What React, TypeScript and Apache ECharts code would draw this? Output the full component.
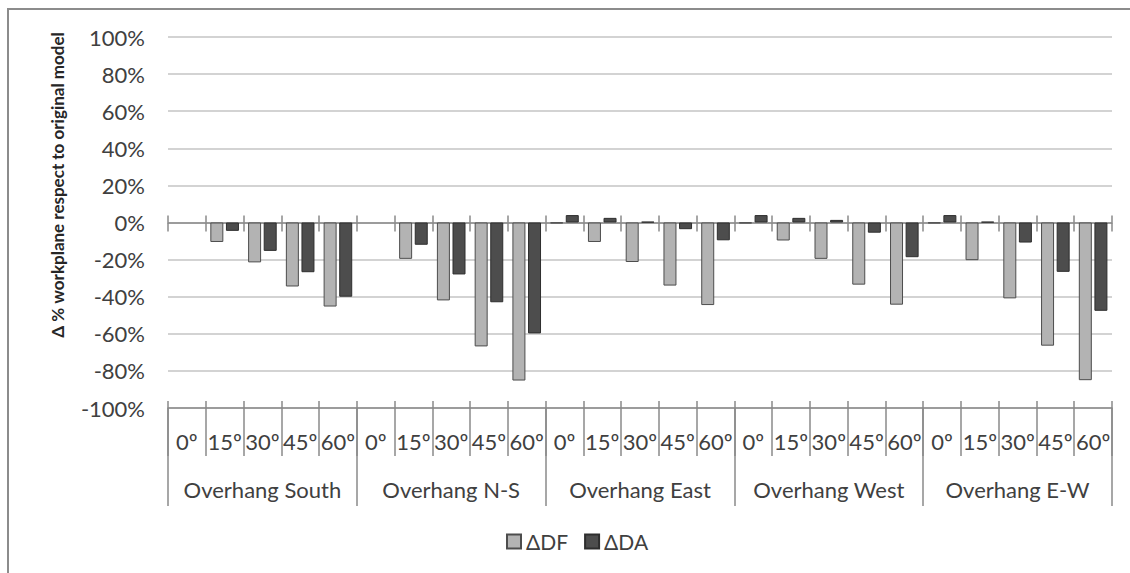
import React, { useEffect, useRef } from "react";
import * as echarts from "echarts";

const angles = ["0º", "15º", "30º", "45º", "60º"];
const groups = ["Overhang South", "Overhang N-S", "Overhang East", "Overhang West", "Overhang E-W"];
const categories: string[] = groups.flatMap(() => angles);

const seriesNames = ["ΔDF", "ΔDA"];
// values in %
const dfValues = [
  0, -10.5, -21.5, -34.5, -45.3,
  0, -19.6, -42, -66.8, -85.2,
  -0.4, -10.5, -21.3, -34, -44.5,
  -0.4, -9.7, -19.6, -33.5, -44.3,
  -0.4, -20.3, -40.9, -66.4, -85,
];
const daValues = [
  0, -4.5, -15.3, -26.8, -40,
  0, -12, -28, -43, -59.8,
  4, 2.5, 0.4, -3.6, -9.6,
  4, 2.5, 1.4, -5.5, -18.7,
  4, 0.4, -10.8, -26.6, -47.6,
];
const yTicks = { min: -100, max: 100, interval: 20 };

const FONT = "Lato";
const TEXT = "#404040";

// zero-valued bars are not drawn at all (no outline)
const toBarData = (vals: number[]) =>
  vals.map((v) => (v === 0 ? { value: v, itemStyle: { borderWidth: 0 } } : v));

export default function App() {
  const ref = useRef<HTMLDivElement>(null);
  useEffect(() => {
    if (!ref.current) return;
    const chart = echarts.init(ref.current, null, { renderer: "svg" });
    const baseCat = {
      type: "category" as const,
      data: categories,
      gridIndex: 0,
      position: "bottom" as const,
      boundaryGap: true,
      axisLabel: { show: false },
      splitLine: { show: false },
    };
    chart.setOption({
      animation: false,
      backgroundColor: "#ffffff",
      textStyle: { fontFamily: FONT },
      grid: { left: 168, right: 18, top: 37, bottom: 165, containLabel: false },
      graphic: [
        {
          type: "rect",
          shape: { x: 8, y: 9, width: 1140, height: 620 },
          style: { fill: "none", stroke: "#8c8c8c", lineWidth: 2 },
          silent: true,
          z: -10,
        },
        {
          type: "text",
          x: 57,
          y: 185,
          rotation: Math.PI / 2,
          style: {
            text: "Δ % workplane respect to original model",
            font: `bold 17px ${FONT}`,
            fill: "#262626",
            align: "center",
            verticalAlign: "middle",
          },
        },
      ],
      legend: {
        data: seriesNames,
        bottom: 16,
        left: 501,
        itemWidth: 14,
        itemHeight: 14,
        itemGap: 16,
        icon: "rect",
        textStyle: { fontFamily: FONT, fontSize: 21, color: TEXT },
      },
      xAxis: [
        {
          ...baseCat,
          axisLine: { show: true, onZero: false, lineStyle: { color: "#8a8a8a", width: 1.5 } },
          axisTick: { show: true, inside: false, length: 48, interval: 0, lineStyle: { color: "#8a8a8a", width: 1.5 } },
          axisLabel: { show: true, interval: 0, margin: 22, fontSize: 22, color: TEXT, fontFamily: FONT },
        },
        {
          type: "category",
          data: groups,
          gridIndex: 0,
          position: "bottom",
          boundaryGap: true,
          axisLine: { show: false, onZero: false },
          axisTick: { show: true, inside: false, length: 98, interval: 0, lineStyle: { color: "#8a8a8a", width: 1.5 } },
          axisLabel: { show: true, interval: 0, margin: 70, fontSize: 22, color: TEXT, fontFamily: FONT },
          splitLine: { show: false },
        },
        {
          ...baseCat,
          axisLine: { show: false, onZero: false },
          axisTick: { show: true, inside: true, length: 7, interval: 0, lineStyle: { color: "#8a8a8a", width: 1.5 } },
        },
        {
          ...baseCat,
          axisLine: { show: true, onZero: true, onZeroAxisIndex: 0, lineStyle: { color: "#8a8a8a", width: 1.5 } },
          axisTick: { show: true, inside: false, length: 9, interval: 0, lineStyle: { color: "#8a8a8a", width: 1.5 } },
        },
        {
          ...baseCat,
          axisLine: { show: false, onZero: true, onZeroAxisIndex: 0 },
          axisTick: { show: true, inside: true, length: 7, interval: 0, lineStyle: { color: "#8a8a8a", width: 1.5 } },
        },
      ],
      yAxis: {
        type: "value",
        min: yTicks.min,
        max: yTicks.max,
        interval: yTicks.interval,
        axisLine: { show: false },
        axisTick: { show: false },
        axisLabel: { formatter: "{value}%", fontSize: 22, color: TEXT, margin: 23, fontFamily: FONT },
        splitLine: { show: true, lineStyle: { color: "#c4c4c4", width: 1.5 } },
      },
      series: [
        {
          name: seriesNames[0],
          type: "bar",
          xAxisIndex: 0,
          data: toBarData(dfValues),
          barWidth: 13,
          barGap: "20%",
          itemStyle: { color: "#b3b3b3", borderColor: "#4d4d4d", borderWidth: 1 },
        },
        {
          name: seriesNames[1],
          type: "bar",
          xAxisIndex: 0,
          data: toBarData(daValues),
          barWidth: 13,
          barGap: "20%",
          itemStyle: { color: "#4d4d4d", borderColor: "#2e2e2e", borderWidth: 1 },
        },
      ],
    });
    return () => chart.dispose();
  }, []);
  return (
    <div
      ref={ref}
      style={{ position: "absolute", left: 0, top: 0, width: 1130, height: 573 }}
    />
  );
}
